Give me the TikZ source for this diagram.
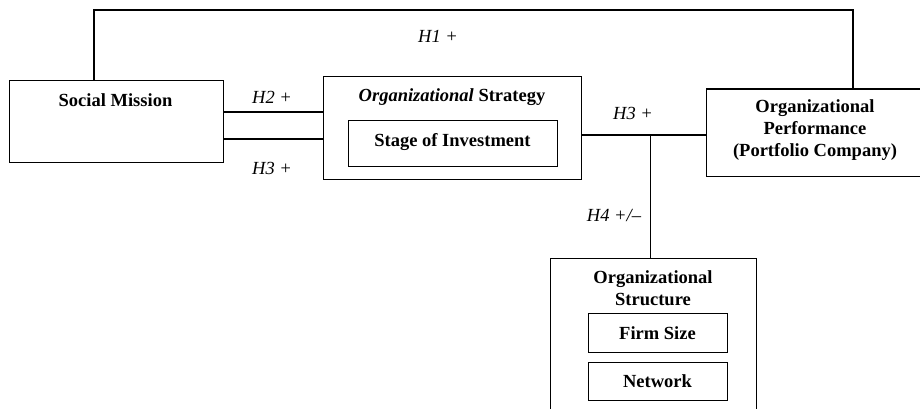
\documentclass[tikz,border=0pt]{standalone}
\usepackage{fontspec}
\setmainfont{Liberation Serif}
\begin{document}
\begin{tikzpicture}[x=1pt,y=-1pt,
  line width=1.2pt,
  box/.style={draw,rectangle,inner sep=0pt,anchor=north west},
  lbl/.style={font=\bfseries\fontsize{18.5}{22}\selectfont,align=center,inner sep=0pt},
  hyp/.style={font=\itshape\fontsize{18.5}{22}\selectfont,inner sep=0pt}]
\clip (0,0) rectangle (920,409);
% outer boxes
\node[box,minimum width=214pt,minimum height=82pt] (sm) at (8.5,80) {};
\node[box,minimum width=258pt,minimum height=103pt] (os) at (323,76) {};
\node[box,minimum width=260pt,minimum height=87pt] (op) at (706,88.5) {};
\node[box,minimum width=206pt,minimum height=170pt] (st) at (550,258) {};
% inner boxes
\node[box,minimum width=209pt,minimum height=46pt] (si) at (348,120) {};
\node[box,minimum width=139pt,minimum height=39pt] (fs) at (588,313) {};
\node[box,minimum width=139pt,minimum height=38pt] (nw) at (588,362) {};
% box texts
\node[lbl] (smt) at (115.5,100) {Social Mission};
\node[lbl] (ost) at (452,97) {\textit{Organizational} Strategy};
\node[lbl] (sit) at (452.5,142) {Stage of Investment};
\node[lbl] (opt) at (815,130) {Organizational\\Performance\\(Portfolio Company)};
\node[lbl] (stt) at (653,288) {Organizational\\Structure};
\node[lbl] (fst) at (657.5,333) {Firm Size};
\node[lbl] (nwt) at (657.5,381) {Network};
% connectors
\coordinate (tl) at (94,10);
\coordinate (tr) at (853,10);
\draw (sm.north west -| tl) -- (tl) -- (tr) -- (op.north west -| tr);
\draw (sm.east |- 0,112) -- (os.west |- 0,112);
\draw (sm.east |- 0,139) -- (os.west |- 0,139);
\draw (os.east |- 0,135) -- (op.west |- 0,135);
\coordinate (jn) at (650.5,135);
\draw (jn) -- (st.north west -| jn);
% hypothesis labels
\node[hyp] (h1) at (438,36) {H1 +};
\node[hyp] (h2) at (272,97) {H2 +};
\node[hyp] (h3a) at (272,168) {H3 +};
\node[hyp] (h3b) at (633,113) {H3 +};
\node[hyp] (h4) at (614,215) {H4 +/–};
\end{tikzpicture}
\end{document}
